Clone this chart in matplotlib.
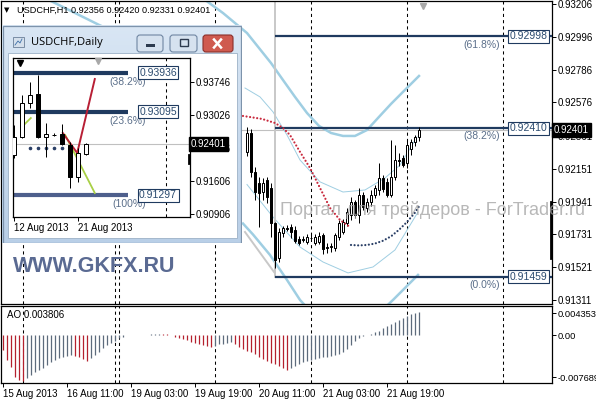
import numpy as np
import matplotlib.pyplot as plt
import matplotlib.transforms as mtransforms
from matplotlib.patches import Rectangle, FancyBboxPatch
from matplotlib.colors import LinearSegmentedColormap
from matplotlib import font_manager

plt.rcParams['font.family'] = ['Liberation Sans', 'DejaVu Sans']

W, H = 596, 400

# -------------------- H1 chart data --------------------
h1_bar = list(range(61, 105))
h1_open = [0.92258, 0.92380, 0.92131, 0.92060, 0.92002, 0.92079, 0.92028, 0.91804, 0.91580, 0.91740,
           0.91772, 0.91778, 0.91759, 0.91701, 0.91695, 0.91682, 0.91710, 0.91676, 0.91680, 0.91727,
           0.91650, 0.91650, 0.91644, 0.91714, 0.91746, 0.91804, 0.91855, 0.91938, 0.91855, 0.91983,
           0.91900, 0.91938, 0.91983, 0.92015, 0.92092, 0.92066, 0.91983, 0.92098, 0.92210, 0.92220,
           0.92188, 0.92280, 0.92322, 0.92356]
h1_high = [0.92419, 0.92406, 0.92163, 0.92098, 0.92092, 0.92098, 0.92060, 0.91810, 0.91772, 0.91785,
           0.91790, 0.91797, 0.91785, 0.91720, 0.91720, 0.91730, 0.91730, 0.91735, 0.91745, 0.91740,
           0.91676, 0.91676, 0.91740, 0.91823, 0.91830, 0.91900, 0.91970, 0.91951, 0.92028, 0.92002,
           0.91964, 0.92015, 0.92047, 0.92188, 0.92111, 0.92092, 0.92335, 0.92303, 0.92252, 0.92240,
           0.92335, 0.92340, 0.92370, 0.92420]
h1_low = [0.92233, 0.92098, 0.91951, 0.91778, 0.91951, 0.91932, 0.91714, 0.91516, 0.91554, 0.91714,
          0.91750, 0.91708, 0.91676, 0.91663, 0.91680, 0.91670, 0.91690, 0.91665, 0.91670, 0.91605,
          0.91612, 0.91620, 0.91625, 0.91695, 0.91735, 0.91785, 0.91823, 0.91836, 0.91804, 0.91887,
          0.91874, 0.91913, 0.91964, 0.91983, 0.92002, 0.91970, 0.91970, 0.92079, 0.92169, 0.92160,
          0.92156, 0.92239, 0.92297, 0.92331]
h1_close = [0.92380, 0.92131, 0.92002, 0.91996, 0.92060, 0.91970, 0.91804, 0.91567, 0.91746, 0.91772,
            0.91768, 0.91746, 0.91689, 0.91676, 0.91700, 0.91714, 0.91705, 0.91714, 0.91720, 0.91637,
            0.91644, 0.91655, 0.91727, 0.91804, 0.91810, 0.91874, 0.91938, 0.91855, 0.91983, 0.91906,
            0.91938, 0.91983, 0.92028, 0.92092, 0.92022, 0.91983, 0.92098, 0.92207, 0.92200, 0.92175,
            0.92303, 0.92322, 0.92355, 0.92401]

# bands (thick outer, thin inner)
upper_early_bar = [10, 24, 32]
upper_early_val = [0.93250, 0.93072, 0.92980]
upper_bar = [50.5, 55, 61, 64, 67, 70, 73, 76, 79, 82, 85, 88, 91, 94, 97, 100, 104]
upper_val = [0.93232, 0.93148, 0.93020, 0.92924, 0.92828, 0.92719, 0.92611, 0.92508,
             0.92425, 0.92380, 0.92361, 0.92361, 0.92399, 0.92483, 0.92566, 0.92643, 0.92745]
lower_bar = [60, 62.5, 66.75, 71, 74.25, 79.25, 85.5, 91.75, 97.5, 103.75]
lower_val = [0.91800, 0.91730, 0.91599, 0.91439, 0.91311, 0.91170, 0.91119, 0.91170, 0.91311, 0.91471]
thin_up_bar = [60.5, 64.25, 67.5, 71, 74.25, 79.25, 85, 90.5, 95.5, 99.25, 103.5]
thin_up_val = [0.92668, 0.92611, 0.92515, 0.92367, 0.92207, 0.92067, 0.92002, 0.92015, 0.92092, 0.92175, 0.92355]
thin_lo_bar = [61, 67.5, 74.25, 80, 86.25, 92.5, 98, 103.75]
thin_lo_val = [0.92050, 0.91842, 0.91650, 0.91554, 0.91484, 0.91522, 0.91631, 0.91874]

red_bar = [60, 64.75, 68, 70, 71.75, 74.25, 76.75, 79.25, 81.75, 84.25, 86.75]
red_val = [0.92489, 0.92470, 0.92444, 0.92412, 0.92367, 0.92259, 0.92156, 0.92028, 0.91900, 0.91823, 0.91778]
navy_bar = [87, 89, 91, 93, 95, 97, 99, 101, 103, 104]
navy_val = [0.91663, 0.91660, 0.91663, 0.91672, 0.91690, 0.91718, 0.91760, 0.91810, 0.91870, 0.91910]

fib_start = 68
fib_levels = [0.92998, 0.92410, 0.91459]
fib_names = ['(61.8%)', '(38.2%)', '(0.0%)']
fib_top = 0.93950
diag_bar = [60.5, 67.75]
diag_val = [0.91746, 0.91490]

bid = 0.92401
separators = [5, 28, 29, 53, 77, 101, 125]
price_ticks = [0.93206, 0.92996, 0.92786, 0.92576, 0.92361, 0.92151, 0.91941, 0.91731, 0.91521, 0.91311]
time_ticks = [0, 16, 32, 48, 64, 80, 96]
time_labels = ['15 Aug 2013', '16 Aug 11:00', '19 Aug 03:00', '19 Aug 19:00',
               '20 Aug 11:00', '21 Aug 03:00', '21 Aug 19:00']

# Awesome oscillator, one value per bar from bar 0
ao = [-0.00248, -0.00414, -0.00525, -0.00690, -0.00745, -0.00769, -0.00707, -0.00662, -0.00617, -0.00579,
      -0.00541, -0.00497, -0.00452, -0.00414, -0.00376, -0.00359, -0.00343, -0.00331, -0.00348, -0.00364,
      -0.00397, -0.00425, -0.00386, -0.00331, -0.00276, -0.00220, -0.00166, -0.00127, -0.00094, -0.00055,
      -0.00028, -0.00005, 0.00003, 0.00005, 0.00004, 0.00001, 0.00002, 0.00017, 0.00022, 0.00025,
      0.00021, 0.00015, -0.00008, -0.00028, -0.00045, -0.00066, -0.00083, -0.00111, -0.00127, -0.00149,
      -0.00166, -0.00182, -0.00204, -0.00177, -0.00154, -0.00144, -0.00132, -0.00121, -0.00154, -0.00194,
      -0.00232, -0.00265, -0.00286, -0.00319, -0.00364, -0.00397, -0.00430, -0.00458, -0.00485, -0.00513,
      -0.00541, -0.00574, -0.00541, -0.00508, -0.00472, -0.00442, -0.00425, -0.00414, -0.00397, -0.00386,
      -0.00369, -0.00359, -0.00348, -0.00336, -0.00319, -0.00286, -0.00237, -0.00166, -0.00099, -0.00045,
      -0.00017, 0.00005, 0.00017, 0.00045, 0.00071, 0.00111, 0.00149, 0.00177, 0.00210, 0.00243,
      0.00276, 0.00309, 0.00343, 0.00364, 0.003806]
ao_tick_pos = [0.00364, 0.0, -0.00695]
ao_tick_labels = ['0.004353', '0.00', '-0.007689']

# -------------------- Daily inset data --------------------
d_bar = list(range(10))
d_open = [0.92166, 0.92553, 0.93284, 0.93478, 0.92553, 0.92596, 0.92618, 0.92381, 0.91693, 0.92187]
d_high = [0.92811, 0.93456, 0.93736, 0.93886, 0.92854, 0.92640, 0.92832, 0.92446, 0.92316, 0.92420]
d_low = [0.92100, 0.92530, 0.93177, 0.92532, 0.92123, 0.92570, 0.92381, 0.91457, 0.91586, 0.92166]
d_close = [0.92553, 0.93284, 0.93456, 0.92553, 0.92618, 0.92596, 0.92402, 0.91693, 0.92209, 0.92401]
d_fib = [0.93936, 0.93095, 0.91297]
d_fib_names = ['(38.2%)', '(23.6%)', '(100%)']
d_ticks = [0.93746, 0.93026, 0.92326, 0.91606, 0.90906]
d_time_ticks = [0, 8]
d_time_labels = ['12 Aug 2013', '21 Aug 2013']
d_red_bar = [6.1, 7.9, 10.1]
d_red_val = [0.92639, 0.92209, 0.93800]
d_green1_bar = [1.1, 2.1]
d_green1_val = [0.92790, 0.92961]
d_green2_bar = [6.4, 10.1]
d_green2_val = [0.92596, 0.91349]
d_dots_bar = [2, 3, 4, 5, 6, 7]
d_dots_val = [0.92316] * 6

NAVY = '#1f3a5f'
BAND = '#9fcee2'
FS = 7


def fig_rect(x0, y0, x1, y1):
    return [x0 / W, 1 - y1 / H, (x1 - x0) / W, (y1 - y0) / H]


def draw_candles(ax, xs, o, h, l, c, width, lw=0.72, z=4):
    for x, op, hi, lo, cl in zip(xs, o, h, l, c):
        ax.plot([x, x], [lo, hi], color='black', lw=lw, zorder=z, solid_capstyle='butt')
        fc = 'white' if cl >= op else 'black'
        ax.add_patch(Rectangle((x - width / 2, min(op, cl)), width, abs(cl - op),
                               fc=fc, ec='black', lw=lw, zorder=z + 0.1))


fig = plt.figure(figsize=(W / 100, H / 100), dpi=100)
fig.patch.set_facecolor('white')

# -------------------- main price panel --------------------
ax = fig.add_axes(fig_rect(1, 1, 552, 304))
ax.set_xlim(-0.5, 137.25)
ax.set_ylim(0.91285, 0.93225)
for s in ax.spines.values():
    s.set_linewidth(0.9)
ax.set_xticks([])
ax.yaxis.tick_right()
ax.set_yticks(price_ticks)
ax.set_yticklabels([f'{t:.5f}' for t in price_ticks])
ax.tick_params(axis='y', labelsize=FS, length=3, pad=1, width=0.7)

for sx in separators:
    ax.axvline(sx, color='black', lw=0.75, ls=(0, (3, 3)), zorder=1)
ax.axhline(bid, color='#c0c0c0', lw=0.8, zorder=1)

ax.plot(upper_early_bar, upper_early_val, color=BAND, lw=1.8, zorder=2)
ax.plot(upper_bar, upper_val, color=BAND, lw=1.8, zorder=2)
ax.plot(lower_bar, lower_val, color=BAND, lw=1.8, zorder=2)
ax.plot(thin_up_bar, thin_up_val, color=BAND, lw=0.7, zorder=2)
ax.plot(thin_lo_bar, thin_lo_val, color=BAND, lw=0.7, zorder=2)

ax.plot([fib_start, fib_start], [fib_levels[-1], fib_top], color='#c8c8c8', lw=1.4, zorder=2)
ax.plot(diag_bar, diag_val, color='#c8c8c8', lw=1.4, zorder=2)
ax.hlines(fib_levels, fib_start, 137.25, color=NAVY, lw=1.6, zorder=3)
for lev, name in zip(fib_levels, fib_names):
    ax.text(136.2, lev, f'{lev:.5f}', fontsize=7.5, color='#2a4a6e', ha='right', va='center', zorder=6,
            bbox=dict(boxstyle='square,pad=0.15', fc='white', ec=NAVY, lw=0.8))
    ax.text(124.3, lev - 0.00052, name, fontsize=7.5, color='#5b6f8a', ha='right', va='center', zorder=6)

draw_candles(ax, h1_bar, h1_open, h1_high, h1_low, h1_close, 0.7)

ax.plot(red_bar, red_val, color='#c8283c', lw=1.6, ls=(0, (0.01, 1.6)),
        dash_capstyle='round', zorder=5)
ax.plot(navy_bar, navy_val, color='#2a3f66', lw=1.6, ls=(0, (0.01, 1.6)),
        dash_capstyle='round', zorder=5)

trans = mtransforms.blended_transform_factory(ax.transAxes, ax.transData)
ax.text(1.003, bid, f'{bid:.5f}', transform=trans, fontsize=FS, color='white', ha='left',
        va='center', zorder=7, bbox=dict(boxstyle='square,pad=0.2', fc='black', ec='black'))
ax.plot([0.998, 0.998], [0.91580, 0.91938], transform=trans, color='black', lw=2,
        clip_on=False, zorder=7)
ax.plot([105], [0.93195], marker='v', color='#a8a8a8', ms=5, zorder=7, clip_on=False)

fig.text(4 / W, 1 - 10 / H, '\u25bc', fontsize=5, va='center', family='DejaVu Sans')
fig.text(17 / W, 1 - 10 / H, 'USDCHF,H1 0.92356 0.92420 0.92331 0.92401', fontsize=6.6, va='center')

# -------------------- AO panel --------------------
ax2 = fig.add_axes(fig_rect(1, 306, 552, 383))
ax2.set_xlim(-0.5, 137.25)
ax2.set_ylim(-0.00794, 0.0048)
for s in ax2.spines.values():
    s.set_linewidth(0.9)
ao_x = np.arange(len(ao))
ao_col = ['#b4202e' if k == 0 or ao[k] < ao[k - 1] else '#5d6b7c' for k in range(len(ao))]
ax2.vlines(ao_x, 0, ao, colors=ao_col, lw=0.9)
for sx in separators:
    ax2.axvline(sx, color='black', lw=0.75, ls=(0, (3, 3)), zorder=1)
ax2.yaxis.tick_right()
ax2.set_yticks(ao_tick_pos)
ax2.set_yticklabels(ao_tick_labels)
ax2.set_xticks(time_ticks)
ax2.set_xticklabels(time_labels)
for lbl in ax2.get_xticklabels():
    lbl.set_horizontalalignment('left')
ax2.tick_params(labelsize=FS, length=3, pad=1, width=0.7)
for lbl in ax2.get_yticklabels():
    lbl.set_fontsize(6.7)
ax2.text(0.01, 0.88, 'AO 0.003806', transform=ax2.transAxes, fontsize=FS, va='center')

# -------------------- daily window --------------------
win = fig.add_axes(fig_rect(2, 25, 242, 243), zorder=5)
win.set_xlim(2, 242)
win.set_ylim(243, 25)
win.axis('off')
grad = np.linspace(0, 1, 64).reshape(-1, 1)
cmap = LinearSegmentedColormap.from_list('frame', ['#d9e6f4', '#b9cfe7'])
win.imshow(grad, extent=(2, 242, 243, 25), cmap=cmap, aspect='auto', zorder=0)
win.add_patch(Rectangle((2.5, 25.5), 239, 217, fc='none', ec='#7d93ab', lw=0.9, zorder=1))
win.add_patch(Rectangle((8, 53), 229, 185, fc='white', ec='#9cb1c6', lw=0.6, zorder=1))
win.add_patch(Rectangle((13, 37), 11, 10, fc='#d5e0ec', ec='#6b8099', lw=0.6, zorder=2))
win.plot([15, 18, 20, 22], [45, 41, 43, 39], color='#3b6fa8', lw=0.6, zorder=3)
win.text(31, 43, 'USDCHF,Daily', fontsize=8, va='center', zorder=3, family='Open Sans')
for bx, bw, fc, ec in [(137, 26, '#d6e2ef', '#6f86a2'), (170, 27, '#d6e2ef', '#6f86a2'),
                       (203, 30, '#cf5a4f', '#8a2f2a')]:
    win.add_patch(FancyBboxPatch((bx, 35), bw, 17, boxstyle='round,pad=0,rounding_size=3',
                                 fc=fc, ec=ec, lw=0.8, zorder=2))
win.add_patch(Rectangle((146, 44), 9, 2.5, fc='#2d3b4f', ec='none', zorder=3))
win.add_patch(Rectangle((180, 39), 8, 7, fc='none', ec='#2d3b4f', lw=1.0, zorder=3))
win.plot([214, 221], [39.5, 47.5], color='white', lw=1.8, zorder=3)
win.plot([214, 221], [47.5, 39.5], color='white', lw=1.8, zorder=3)

axd = fig.add_axes(fig_rect(13, 58, 190, 217), zorder=6)
axd.set_xlim(-0.125, 22)
axd.set_ylim(0.90833, 0.94252)
for s in axd.spines.values():
    s.set_linewidth(0.9)
axd.axvline(19, color='black', lw=0.75, ls=(0, (3, 3)), zorder=1)
axd.axhline(bid, color='#c0c0c0', lw=0.8, zorder=1)
for lev, col in zip(d_fib, [NAVY, NAVY, '#4e5f8c']):
    axd.hlines(lev, -0.125, 14.25, color=col, lw=3, zorder=2)
for lev, name in zip(d_fib, d_fib_names):
    axd.text(18, lev, f'{lev:.5f}', fontsize=7.5, color='#2a4a6e', ha='center', va='center', zorder=6,
             bbox=dict(boxstyle='square,pad=0.15', fc='white', ec=NAVY, lw=0.8))
    axd.text(16.5, lev - 0.00195, name, fontsize=7.5, color='#5b6f8a', ha='right', va='center', zorder=5)
axd.plot(d_green1_bar, d_green1_val, color='#a9d046', lw=1.3, zorder=3)
axd.plot(d_green2_bar, d_green2_val, color='#a9d046', lw=1.3, zorder=3)
axd.plot(d_red_bar, d_red_val, color='#b81f35', lw=1.4, zorder=3)
axd.plot(d_dots_bar, d_dots_val, ls='none', marker='o', ms=1.6, color='#2a3f66', zorder=3)
draw_candles(axd, d_bar, d_open, d_high, d_low, d_close, 0.62)
axd.yaxis.tick_right()
axd.set_yticks(d_ticks)
axd.set_yticklabels([f'{t:.5f}' for t in d_ticks])
axd.set_xticks(d_time_ticks)
axd.set_xticklabels(d_time_labels)
for lbl in axd.get_xticklabels():
    lbl.set_horizontalalignment('left')
axd.tick_params(labelsize=FS, length=3, pad=1, width=0.7)
transd = mtransforms.blended_transform_factory(axd.transAxes, axd.transData)
axd.text(1.006, bid, f'{bid:.5f}', transform=transd, fontsize=FS, color='white', ha='left',
         va='center', zorder=7, bbox=dict(boxstyle='square,pad=0.2', fc='black', ec='black'))
axd.plot([0.995, 0.995], [0.91994, 0.92166], transform=transd, color='black', lw=2,
         clip_on=False, zorder=7)
axd.plot([0.8], [0.9415], marker='v', color='black', ms=4, zorder=7)
axd.plot([10.5], [0.9418], marker='v', color='#a8a8a8', ms=5, zorder=7, clip_on=False)

# -------------------- watermarks --------------------
names = {f.name for f in font_manager.fontManager.ttflist}
if 'Liberation Sans Narrow' in names:
    gk_family, gk_size = 'Liberation Sans Narrow', 18
else:
    gk_family, gk_size = 'Liberation Sans', 15.5
fig.text(13 / W, 1 - 266 / H, 'WWW.GKFX.RU', fontsize=gk_size, family=gk_family, weight='bold',
         color='#5a6a92', va='center', zorder=8)
fig.text(280 / W, 1 - 210 / H, 'Портал для трейдеров - ForTrader.ru', fontsize=13,
         family='Liberation Sans', color='#a0a0a0', alpha=0.75, va='center', zorder=8)

fig.savefig('out.png', dpi=100)
